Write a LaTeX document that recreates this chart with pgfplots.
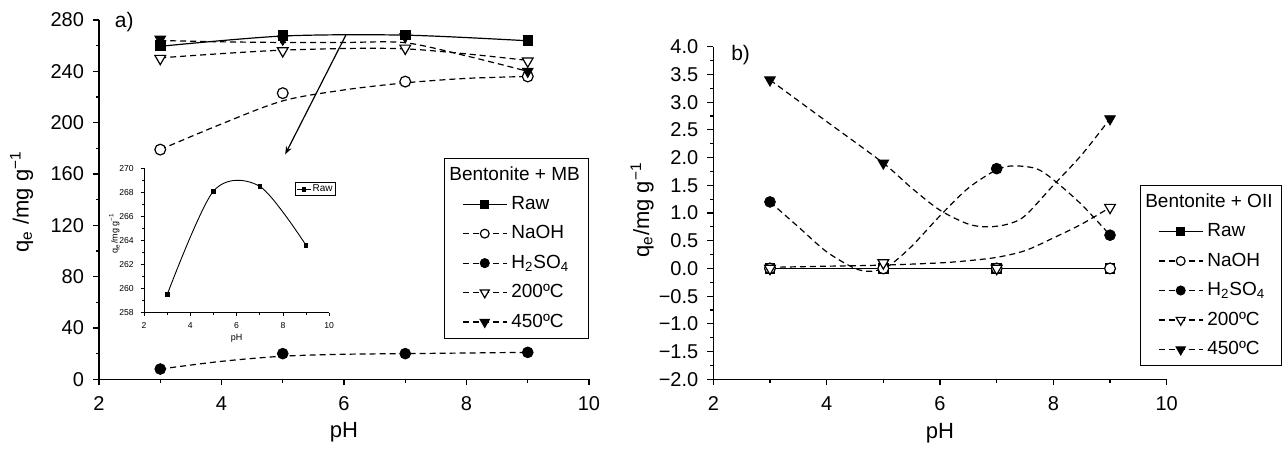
\documentclass[border=0pt]{standalone}
\usepackage{fontspec}
\setmainfont{Liberation Sans}
\usepackage{pgfplots}
\pgfplotsset{compat=1.18}
\usetikzlibrary{arrows.meta}

\pgfplotsset{
  mystyle/.style={
    scale only axis,
    axis x line*=bottom, axis y line*=left,
    axis line style={-, line width=0.6pt},
    tick align=outside,
    major tick length=3pt, minor tick length=1.6pt,
    every tick/.style={black, line width=0.6pt},
    tick label style={font=\fontsize{10}{12}\selectfont},
    xticklabel style={yshift=-2pt},
    yticklabel style={xshift=-1pt},
    /pgf/number format/assume math mode=true,
    label style={font=\fontsize{11}{13}\selectfont},
    legend cell align=left,
    legend image code/.code={
      \draw[mark repeat=2,mark phase=2,##1] plot coordinates {(7pt,0pt) (18pt,0pt) (29pt,0pt)};
    },
    legend style={draw=black, line width=0.6pt, fill=white, font=\fontsize{9.5}{11}\selectfont, inner xsep=2.3pt, inner ysep=2pt, row sep=2.6pt},
    clip=false,
  },
  dsh/.style={dash pattern=on 3pt off 2pt},
  ln/.style={black, line width=0.6pt},
}

\begin{document}
\begin{tikzpicture}
\useasboundingbox (0,0) rectangle (641.5pt,225pt);

% ---------------- left panel ----------------
\begin{axis}[mystyle, at={(49.5pt,35.35pt)}, anchor=south west,
  width=245pt, height=179.65pt,
  xmin=2, xmax=10, ymin=0, ymax=280,
  xtick={2,4,6,8,10}, minor xtick={3,5,7,9},
  ytick={0,40,80,120,160,200,240,280}, minor ytick={20,60,100,140,180,220,260},
  xlabel={pH}, ylabel={q\textsubscript{e} /mg g\textsuperscript{−1}},
  xlabel style={at={(axis description cs:0.5,-0.146)},anchor=center},
  ylabel style={at={(axis description cs:-0.158,0.494)},anchor=center},
  legend style={at={(axis description cs:1,0.6168)},anchor=north east}]
% curves
\addplot[ln, smooth, forget plot] coordinates {(3,259.5)(5,267.5)(7,268.2)(9,263.8)};
\addplot[ln, dsh, smooth, forget plot] coordinates {(3,179)(4,199)(5,217)(6,225.5)(7,231)(8,234.5)(9,236)};
\addplot[ln, dsh, smooth, forget plot] coordinates {(3,8)(4,14)(5,18)(6,19.5)(7,20)(8,20.5)(9,21)};
\addplot[ln, dsh, smooth, forget plot] coordinates {(3,250.5)(5,256.5)(7,257.5)(9,248.5)};
\addplot[ln, dsh, smooth, forget plot] coordinates {(3,264)(4,263)(5,262.5)(6,262.5)(7,262.3)(8,252)(9,240)};
% markers
\addplot[only marks, mark=square*, mark size=2.4pt, mark options={solid,fill=black,draw=black}, forget plot] coordinates {(3,260)(5,268)(7,268.5)(9,264)};
\addplot[only marks, mark=*, mark size=2.7pt, mark options={solid,fill=white,draw=black,line width=0.6pt}, forget plot] coordinates {(3,179)(5,223)(7,232)(9,236)};
\addplot[only marks, mark=*, mark size=2.7pt, mark options={solid,fill=black,draw=black}, forget plot] coordinates {(3,8)(5,20)(7,20)(9,21)};
\addplot[only marks, mark=triangle*, mark size=3.1pt, mark options={solid,fill=white,draw=black,line width=0.6pt,rotate=180}, forget plot] coordinates {(3,250)(5,256)(7,258)(9,248)};
\addplot[only marks, mark=triangle*, mark size=3.1pt, mark options={solid,fill=black,draw=black,rotate=180}, forget plot] coordinates {(3,265)(5,265)(7,267)(9,240)};
% legend
\addlegendimage{empty legend}
\addlegendentry{\hspace{-31pt}Bentonite + MB}
\addlegendimage{ln, mark=square*, mark size=2pt, mark options={solid,fill=black}}
\addlegendentry{Raw}
\addlegendimage{ln, dsh, mark=*, mark size=2.2pt, mark options={solid,fill=white}}
\addlegendentry{NaOH}
\addlegendimage{ln, dsh, mark=*, mark size=2.2pt, mark options={solid,fill=black}}
\addlegendentry{H\textsubscript{2}SO\textsubscript{4}}
\addlegendimage{ln, dsh, mark=triangle*, mark size=2.6pt, mark options={solid,fill=white,rotate=180}}
\addlegendentry{200ºC}
\addlegendimage{ln, dsh, mark=triangle*, mark size=2.6pt, mark options={solid,fill=black,rotate=180}}
\addlegendentry{450ºC}
\node[anchor=west, font=\fontsize{10.5}{12}\selectfont] at (axis description cs:0.018,0.994) {a)};
\draw[-{Stealth[length=4pt,width=3pt]}, line width=0.6pt] (axis cs:6.03,268.2) -- (axis cs:5.04,175.3);
\end{axis}

% ---------------- inset ----------------
\begin{axis}[scale only axis, at={(72pt,68.65pt)}, anchor=south west,
  width=92.6pt, height=72.2pt,
  axis x line*=bottom, axis y line*=left,
  axis line style={-, line width=0.4pt},
  tick align=outside, major tick length=1.6pt, minor tick length=0.9pt,
  every tick/.style={black, line width=0.4pt},
  xmin=2, xmax=10, ymin=258, ymax=270,
  xtick={2,4,6,8,10}, minor xtick={3,5,7,9},
  ytick={258,260,262,264,266,268,270}, minor ytick={259,261,263,265,267,269},
  tick label style={font=\fontsize{4.3}{5}\selectfont},
  /pgf/number format/assume math mode=true,
  /pgf/number format/1000 sep={},
  xlabel={pH}, ylabel={q\textsubscript{e}/mg g\textsuperscript{−1}},
  label style={font=\fontsize{4.5}{5}\selectfont},
  xlabel style={at={(axis description cs:0.5,-0.175)},anchor=center},
  ylabel style={at={(axis description cs:-0.16,0.55)},anchor=center},
  legend image code/.code={
    \draw[mark repeat=2,mark phase=2,#1] plot coordinates {(0pt,0pt) (3.5pt,0pt) (7pt,0pt)};
  },
  legend style={at={(axis description cs:0.813,0.905)}, anchor=north west, draw=black, line width=0.4pt, font=\fontsize{5}{6}\selectfont, inner xsep=0.8pt, inner ysep=0.3pt, nodes={inner sep=0.6pt}},
  clip=false]
\addplot[black, line width=0.45pt, smooth, mark=square*, mark size=0.9pt, mark options={fill=black}] coordinates {(3,259.5)(5,268.1)(7,268.5)(9,263.6)};
\addlegendentry{Raw}
\end{axis}

% ---------------- right panel ----------------
\begin{axis}[mystyle, at={(356.65pt,35.35pt)}, anchor=south west,
  width=226.7pt, height=166.3pt,
  xmin=2, xmax=10, ymin=-2, ymax=4,
  xtick={2,4,6,8,10}, minor xtick={3,5,7,9},
  ytick={-2,-1.5,-1,-0.5,0,0.5,1,1.5,2,2.5,3,3.5,4},
  yticklabels={−2.0,−1.5,−1.0,−0.5,0.0,0.5,1.0,1.5,2.0,2.5,3.0,3.5,4.0},
  minor ytick={-1.75,-1.25,-0.75,-0.25,0.25,0.75,1.25,1.75,2.25,2.75,3.25,3.75},
  xlabel={pH}, ylabel={q\textsubscript{e}/mg g\textsuperscript{−1}},
  xlabel style={at={(axis description cs:0.5,-0.162)},anchor=center},
  ylabel style={at={(axis description cs:-0.157,0.509)},anchor=center},
  legend style={at={(axis description cs:0.940,0.584)},anchor=north west}]
% curves
\addplot[ln, forget plot] coordinates {(3,0)(5,0)(7,0)(9,0)};
\addplot[ln, dsh, forget plot] coordinates {(3,0)(5,0)(7,0)(9,0)};
\addplot[ln, dsh, smooth, forget plot] coordinates {(3,1.2)(3.5,0.75)(4,0.3)(4.5,0.0)(4.8,-0.05)(5.1,0.05)(5.5,0.4)(6,0.95)(6.5,1.45)(7,1.78)(7.3,1.85)(7.7,1.8)(8,1.6)(8.5,1.15)(9,0.6)};
\addplot[ln, dsh, smooth, forget plot] coordinates {(3,0.02)(4,0.04)(5,0.06)(6,0.1)(6.5,0.14)(7,0.2)(7.5,0.32)(8,0.55)(8.5,0.8)(9,1.1)};
\addplot[ln, dsh, smooth, forget plot] coordinates {(3,3.4)(4,2.65)(5,1.9)(5.5,1.45)(6,1.05)(6.5,0.8)(6.85,0.75)(7.2,0.8)(7.5,0.95)(8,1.5)(8.5,2.05)(9,2.7)};
% markers
\addplot[only marks, mark=square*, mark size=2.4pt, mark options={solid,fill=black,draw=black}, forget plot] coordinates {(3,0)(5,0)(7,0)(9,0)};
\addplot[only marks, mark=*, mark size=2.7pt, mark options={solid,fill=white,draw=black,line width=0.6pt}, forget plot] coordinates {(3,0)(5,0)(7,0)(9,0)};
\addplot[only marks, mark=*, mark size=2.7pt, mark options={solid,fill=black,draw=black}, forget plot] coordinates {(3,1.2)(7,1.8)(9,0.6)};
\addplot[only marks, mark=triangle*, mark size=3.1pt, mark options={solid,fill=white,draw=black,line width=0.6pt,rotate=180}, forget plot] coordinates {(3,0)(5,0.1)(7,0)(9,1.1)};
\addplot[only marks, mark=triangle*, mark size=3.1pt, mark options={solid,fill=black,draw=black,rotate=180}, forget plot] coordinates {(3,3.4)(5,1.9)(9,2.7)};
% legend
\addlegendimage{empty legend}
\addlegendentry{\hspace{-31pt}Bentonite + OII}
\addlegendimage{ln, mark=square*, mark size=2pt, mark options={solid,fill=black}}
\addlegendentry{Raw}
\addlegendimage{ln, dsh, mark=*, mark size=2.2pt, mark options={solid,fill=white}}
\addlegendentry{NaOH}
\addlegendimage{ln, dsh, mark=*, mark size=2.2pt, mark options={solid,fill=black}}
\addlegendentry{H\textsubscript{2}SO\textsubscript{4}}
\addlegendimage{ln, dsh, mark=triangle*, mark size=2.6pt, mark options={solid,fill=white,rotate=180}}
\addlegendentry{200ºC}
\addlegendimage{ln, dsh, mark=triangle*, mark size=2.6pt, mark options={solid,fill=black,rotate=180}}
\addlegendentry{450ºC}
\node[anchor=west, font=\fontsize{10.5}{12}\selectfont] at (axis description cs:0.024,0.975) {b)};
\end{axis}
\end{tikzpicture}
\end{document}
